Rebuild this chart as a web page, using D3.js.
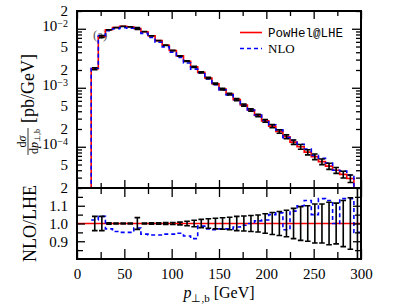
<!DOCTYPE html>
<html>
<head>
<meta charset="utf-8">
<script src="https://cdn.jsdelivr.net/npm/d3@7"></script>
<style>
body { margin: 0; background: #fff; }
text { font-family: "Liberation Serif", "Times New Roman", serif; fill: #000; }
</style>
</head>
<body>
<script>
// bins of p_T,b [GeV]
var binEdges = [15, 22.5, 30, 37.5, 45, 52.5, 60, 67.5, 75, 82.5, 90, 97.5, 105, 112.5, 120, 127.5,
  135, 142.5, 150, 157.5, 165, 172.5, 180, 187.5, 195, 202.5, 210, 217.5, 225, 232.5, 240,
  247.5, 255, 262.5, 270, 277.5, 285, 292.5, 300];

// PowHel@LHE dsigma/dpT [pb/GeV]
var lheValues = [2.1e-3, 7.4e-3, 9.6e-3, 1.05e-2, 1.1e-2, 1.08e-2, 1.01e-2, 8.9e-3, 7.6e-3,
  6.3e-3, 5.25e-3, 4.27e-3, 3.47e-3, 2.82e-3, 2.26e-3, 1.82e-3, 1.46e-3, 1.17e-3, 9.5e-4,
  7.8e-4, 6.3e-4, 5.1e-4, 4.2e-4, 3.4e-4, 2.75e-4, 2.24e-4, 1.82e-4, 1.48e-4, 1.2e-4,
  1.0e-4, 8.1e-5, 6.8e-5, 5.6e-5, 4.7e-5, 4.0e-5, 3.4e-5, 2.9e-5, 1.6e-5];

// NLO / LHE
var nloRatio = [1.02, 1.04, 0.97, 0.955, 0.95, 0.95, 0.975, 0.94, 0.935, 0.935, 0.94, 0.94,
  0.945, 0.93, 0.915, 0.985, 0.97, 0.965, 0.97, 0.97, 0.98, 0.99, 1.0, 1.015, 1.02, 1.05,
  1.06, 0.965, 1.07, 1.1, 1.13, 1.05, 1.14, 1.13, 1.0, 1.14, 1.14, 0.95];

// relative statistical error of LHE
var lheRelErr = [0.04, 0.04, 0.004, 0.003, 0.003, 0.003, 0.033, 0.003, 0.004, 0.004, 0.005,
  0.006, 0.008, 0.013, 0.018, 0.023, 0.027, 0.03, 0.032, 0.035, 0.04, 0.042, 0.045, 0.048,
  0.055, 0.062, 0.068, 0.075, 0.085, 0.095, 0.1, 0.11, 0.11, 0.12, 0.115, 0.13, 0.145, 0.25];

var xMajorTicks = [0, 50, 100, 150, 200, 250, 300];
var xMinorTicks = [25, 75, 125, 175, 225, 275];
var mainLabelTicks = [2e-2, 1e-2, 5e-3, 2e-3, 1e-3, 5e-4, 2e-4, 1e-4, 5e-5, 2e-5];
var ratioLabelTicks = [0.9, 1.0, 1.1];
var ratioMinorTicks = [0.85, 0.95, 1.05, 1.15];

var L = 77, R = 361, T = 11, M = 188, B = 259;

var svg = d3.select('body').append('svg')
  .attr('width', 407).attr('height', 308);

var x = d3.scaleLinear().domain([0, 300]).range([L, R]);
var yMain = d3.scaleLog().domain([2e-5, 2e-2]).range([M, T]);
var yRatio = d3.scaleLinear().domain([0.8, 1.2]).range([B, M]);

var defs = svg.append('defs');
defs.append('clipPath').attr('id', 'cm').append('rect')
  .attr('x', L).attr('y', T).attr('width', R - L).attr('height', M - T);
defs.append('clipPath').attr('id', 'cr').append('rect')
  .attr('x', L).attr('y', M).attr('width', R - L).attr('height', B - M);

var bins = lheValues.map(function(v, i) {
  return { x0: binEdges[i], x1: binEdges[i + 1], lhe: v, r: nloRatio[i], e: lheRelErr[i] };
});

// "(a)" label, partly under the curves
svg.append('text').attr('x', 93).attr('y', 39).style('font-size', '13px')
  .style('fill', '#555').text('(a)');

// ---- main panel
var gMain = svg.append('g').attr('clip-path', 'url(#cm)');
var mainLine = d3.line()
  .x(function(d) { return x(d[0]); })
  .y(function(d) { return yMain(d[1]); })
  .curve(d3.curveStepAfter);

function stepPts(key) {
  var pts = [[binEdges[0], 1e-7]];
  bins.forEach(function(b) { pts.push([b.x0, key(b)]); });
  pts.push([300, key(bins[bins.length - 1])]);
  return pts;
}

gMain.append('path').datum(stepPts(function(b) { return b.lhe; }))
  .attr('d', mainLine).attr('fill', 'none').attr('stroke', '#ff0000').attr('stroke-width', 1.6);
gMain.append('path').datum(stepPts(function(b) { return b.lhe * b.r; }))
  .attr('d', mainLine).attr('fill', 'none').attr('stroke', '#0000ff').attr('stroke-width', 1.6)
  .attr('stroke-dasharray', '4,3');

function errPath(b, ys, lo, hi) {
  var c = x((b.x0 + b.x1) / 2), w = 2.8;
  return 'M' + (c - w) + ',' + ys(hi) + 'H' + (c + w) +
    'M' + c + ',' + ys(hi) + 'V' + ys(lo) +
    'M' + (c - w) + ',' + ys(lo) + 'H' + (c + w);
}

gMain.selectAll('path.err').data(bins).enter().append('path')
  .attr('class', 'err')
  .attr('d', function(b) { return errPath(b, yMain, b.lhe * (1 - b.e), b.lhe * (1 + b.e)); })
  .attr('fill', 'none').attr('stroke', '#000').attr('stroke-width', 1.6);

// ---- ratio panel
var gRatio = svg.append('g').attr('clip-path', 'url(#cr)');
gRatio.append('line').attr('x1', L).attr('x2', R).attr('y1', yRatio(1)).attr('y2', yRatio(1))
  .attr('stroke', '#ff0000').attr('stroke-width', 1.6);

var ratioLine = d3.line()
  .x(function(d) { return x(d[0]); })
  .y(function(d) { return yRatio(d[1]); })
  .curve(d3.curveStepAfter);
var rPts = bins.map(function(b) { return [b.x0, b.r]; });
rPts.push([300, bins[bins.length - 1].r]);
gRatio.append('path').datum(rPts).attr('d', ratioLine)
  .attr('fill', 'none').attr('stroke', '#0000ff').attr('stroke-width', 1.6)
  .attr('stroke-dasharray', '4,3');

gRatio.selectAll('path.err').data(bins).enter().append('path')
  .attr('class', 'err')
  .attr('d', function(b) { return errPath(b, yRatio, 1 - b.e, 1 + b.e); })
  .attr('fill', 'none').attr('stroke', '#000').attr('stroke-width', 1.6);

// ---- axes
function styleAxis(g) {
  g.select('.domain').remove();
  g.selectAll('line').attr('stroke', '#000').attr('stroke-width', 1.3);
  g.selectAll('text').style('font-size', '15px').style('font-family', '"Liberation Serif", serif');
}

function put(axis, tx, ty) {
  return svg.append('g').attr('transform', 'translate(' + tx + ',' + ty + ')').call(axis).call(styleAxis);
}

var mainMinor = yMain.ticks().filter(function(v) {
  var m = Math.round(v / Math.pow(10, Math.floor(Math.log10(v) + 1e-9)));
  return m !== 1;
});
var mainMajor = [1e-4, 1e-3, 1e-2];

function logFmt(v) {
  var p = Math.floor(Math.log10(v) + 1e-9);
  var m = Math.round(v / Math.pow(10, p));
  return m === 1 ? '10^' + p : String(m);
}

// main left / right
put(d3.axisLeft(yMain).tickValues(mainMinor).tickSize(-5).tickFormat(''), L, 0);
put(d3.axisLeft(yMain).tickValues(mainMajor).tickSize(-9).tickFormat(''), L, 0);
var lab = put(d3.axisLeft(yMain).tickValues(mainLabelTicks).tickSize(0).tickPadding(9).tickFormat(logFmt), L, 0);
lab.selectAll('text').each(function(d) {
  var s = logFmt(d), t = d3.select(this);
  if (s.indexOf('^') >= 0) {
    var p = s.split('^');
    t.text(null);
    t.append('tspan').text(p[0]).attr('dy', '0.1em');
    t.append('tspan').text(p[1].replace('-', '\u2212')).style('font-size', '10px').attr('dy', '-0.35em');
  }
});
put(d3.axisRight(yMain).tickValues(mainMinor).tickSize(-5).tickFormat(''), R, 0);
put(d3.axisRight(yMain).tickValues(mainMajor).tickSize(-9).tickFormat(''), R, 0);

// main top / bottom
put(d3.axisTop(x).tickValues(xMajorTicks).tickSize(-8).tickFormat(''), 0, T);
put(d3.axisTop(x).tickValues(xMinorTicks).tickSize(-5).tickFormat(''), 0, T);
put(d3.axisBottom(x).tickValues(xMajorTicks).tickSize(-8).tickFormat(''), 0, M);
put(d3.axisBottom(x).tickValues(xMinorTicks).tickSize(-5).tickFormat(''), 0, M);

// ratio ticks
put(d3.axisTop(x).tickValues(xMajorTicks).tickSize(-9).tickFormat(''), 0, M);
put(d3.axisTop(x).tickValues(xMinorTicks).tickSize(-6).tickFormat(''), 0, M);
put(d3.axisBottom(x).tickValues(xMajorTicks).tickSize(-10).tickPadding(9).tickFormat(d3.format('d')), 0, B);
put(d3.axisBottom(x).tickValues(xMinorTicks).tickSize(-7).tickFormat(''), 0, B);
put(d3.axisLeft(yRatio).tickValues(ratioLabelTicks).tickSize(-8).tickPadding(9).tickFormat(d3.format('.1f')), L, 0);
put(d3.axisLeft(yRatio).tickValues(ratioMinorTicks).tickSize(-6).tickFormat(''), L, 0);
put(d3.axisRight(yRatio).tickValues(ratioLabelTicks).tickSize(-8).tickFormat(''), R, 0);
put(d3.axisRight(yRatio).tickValues(ratioMinorTicks).tickSize(-6).tickFormat(''), R, 0);

// frames
svg.append('rect').attr('x', L).attr('y', T).attr('width', R - L).attr('height', M - T)
  .attr('fill', 'none').attr('stroke', '#000').attr('stroke-width', 2);
svg.append('rect').attr('x', L).attr('y', M).attr('width', R - L).attr('height', B - M)
  .attr('fill', 'none').attr('stroke', '#000').attr('stroke-width', 2);

// legend
var leg = svg.append('g');
leg.append('line').attr('x1', 240).attr('x2', 262).attr('y1', 32.5).attr('y2', 32.5)
  .attr('stroke', '#ff0000').attr('stroke-width', 1.6);
leg.append('text').attr('x', 268).attr('y', 37).style('font-family', '"Liberation Mono", monospace')
  .style('font-size', '12.5px').text('PowHel@LHE');
leg.append('line').attr('x1', 240).attr('x2', 262).attr('y1', 48.5).attr('y2', 48.5)
  .attr('stroke', '#0000ff').attr('stroke-width', 1.6).attr('stroke-dasharray', '4,3');
leg.append('text').attr('x', 268).attr('y', 53).style('font-size', '13px').text('NLO');

// axis titles
var xt = svg.append('text').attr('x', 219).attr('y', 298).attr('text-anchor', 'middle')
  .style('font-size', '16px');
xt.append('tspan').style('font-style', 'italic').text('p');
xt.append('tspan').style('font-size', '11px').attr('dy', 4).text('\u22a5,b');
xt.append('tspan').attr('dy', -4).text(' [GeV]');

var yt = svg.append('g').attr('transform', 'translate(34,103) rotate(-90)');
yt.append('text').attr('x', -20).attr('y', 0).style('font-size', '18px').text('[pb/GeV]');
yt.append('line').attr('x1', -52).attr('x2', -25).attr('y1', -6).attr('y2', -6)
  .attr('stroke', '#000').attr('stroke-width', 0.8);
var num = yt.append('text').attr('x', -38.5).attr('y', -8).attr('text-anchor', 'middle')
  .style('font-size', '12px');
num.append('tspan').text('d');
num.append('tspan').style('font-style', 'italic').text('\u03c3');
var den = yt.append('text').attr('x', -38.5).attr('y', 3.5).attr('text-anchor', 'middle')
  .style('font-size', '12px');
den.append('tspan').text('d');
den.append('tspan').style('font-style', 'italic').text('p');
den.append('tspan').style('font-size', '8px').attr('dy', 2.5).text('\u22a5,b');

svg.append('g').attr('transform', 'translate(36,223.5) rotate(-90)')
  .append('text').attr('text-anchor', 'middle').style('font-size', '18px').text('NLO/LHE');
</script>
</body>
</html>
